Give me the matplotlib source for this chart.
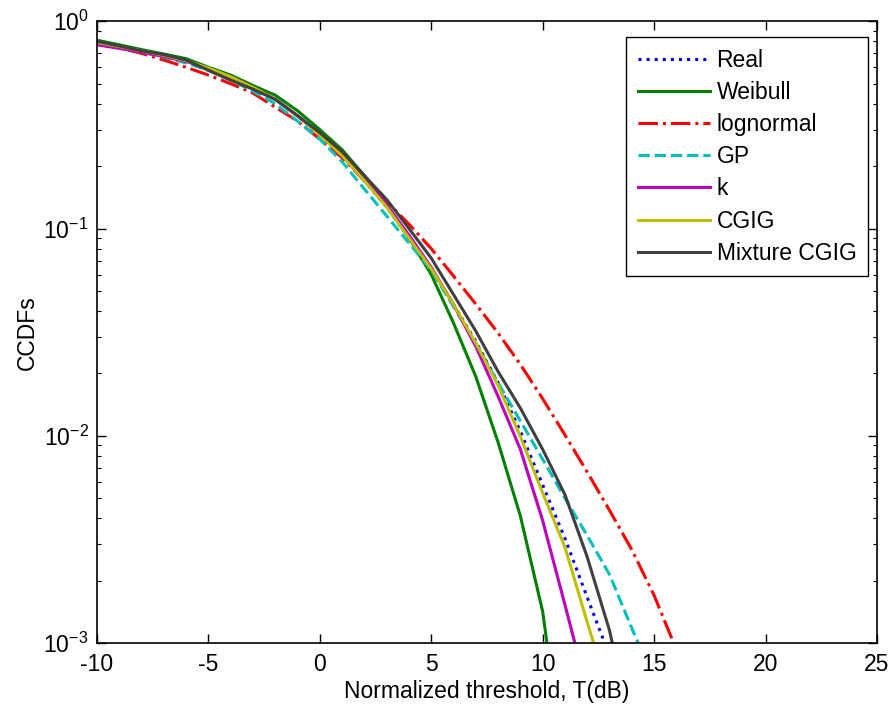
import numpy as np
import matplotlib
matplotlib.use("Agg")
import matplotlib.pyplot as plt
from matplotlib.ticker import LogLocator, NullFormatter, MultipleLocator

plt.rcParams['font.family'] = ['Liberation Sans', 'DejaVu Sans']
plt.rcParams['axes.unicode_minus'] = False
plt.rcParams['mathtext.fontset'] = 'custom'
plt.rcParams['mathtext.rm'] = 'Liberation Sans'

# threshold grid (dB), 1 dB steps
T = np.arange(-10, 17)

# CCDF values
real = [0.80, 0.76, 0.72, 0.685, 0.645, 0.595, 0.54, 0.48, 0.42, 0.35, 0.283,
        0.225, 0.17, 0.127, 0.09, 0.064, 0.043, 0.0285, 0.018, 0.0105, 0.0058,
        0.0032, 0.00166, 0.00087]
weibull = [0.81, 0.77, 0.73, 0.695, 0.66, 0.60, 0.55, 0.49, 0.44, 0.37, 0.30,
           0.24, 0.18, 0.13, 0.09, 0.06, 0.035, 0.0193, 0.0093, 0.0041, 0.00142,
           0.00023]
lognormal = [0.79, 0.745, 0.70, 0.65, 0.60, 0.55, 0.50, 0.45, 0.385, 0.33, 0.27,
             0.22, 0.17, 0.135, 0.105, 0.08, 0.059, 0.0432, 0.0313, 0.0221, 0.0151,
             0.0101, 0.00668, 0.00437, 0.00282, 0.0017, 0.00093]
gp = [0.79, 0.75, 0.71, 0.67, 0.63, 0.58, 0.52, 0.46, 0.40, 0.33, 0.27,
      0.21, 0.155, 0.115, 0.085, 0.063, 0.042, 0.028, 0.018, 0.0118, 0.0077,
      0.0050, 0.0033, 0.00214, 0.00118, 0.00066]
k = [0.77, 0.74, 0.71, 0.675, 0.64, 0.59, 0.54, 0.48, 0.42, 0.35, 0.285,
     0.23, 0.175, 0.13, 0.093, 0.065, 0.043, 0.027, 0.0155, 0.0086, 0.0039,
     0.00153, 0.00059]
cgig = [0.79, 0.755, 0.72, 0.685, 0.645, 0.595, 0.54, 0.48, 0.42, 0.35, 0.283,
        0.225, 0.17, 0.127, 0.09, 0.064, 0.043, 0.028, 0.0175, 0.0099, 0.0053,
        0.0029, 0.00126, 0.00056]
mixture = [0.80, 0.76, 0.72, 0.69, 0.65, 0.58, 0.52, 0.47, 0.42, 0.35, 0.29,
           0.235, 0.18, 0.138, 0.10, 0.072, 0.048, 0.032, 0.0204, 0.0136, 0.0086,
           0.0052, 0.0026, 0.00115, 0.00037]

series = [
    ("Real", real, (0, 0, 1), ':'),
    ("Weibull", weibull, (0, 0.5, 0), '-'),
    ("lognormal", lognormal, (1, 0, 0), '-.'),
    ("GP", gp, (0, 0.75, 0.75), '--'),
    ("k", k, (0.75, 0, 0.75), '-'),
    ("CGIG", cgig, (0.75, 0.75, 0), '-'),
    ("Mixture CGIG", mixture, (0.25, 0.25, 0.25), '-'),
]

fig = plt.figure(figsize=(8.93, 7.09), dpi=100)
ax = fig.add_axes([0.1086, 0.093, 0.8734, 0.877])

for name, vals, col, ls in series:
    ax.semilogy(T[:len(vals)], vals, color=col, linestyle=ls, lw=2.2, label=name)

fs = 16.5
ax.set_xlim(-10, 25)
ax.set_ylim(1e-3, 1)
ax.xaxis.set_major_locator(MultipleLocator(5))
ax.yaxis.set_major_locator(LogLocator(base=10))
ax.yaxis.set_minor_locator(LogLocator(base=10, subs=np.arange(2, 10)))
ax.yaxis.set_minor_formatter(NullFormatter())
ax.tick_params(which='both', direction='in', top=True, right=True, labelsize=fs)
ax.tick_params(which='major', length=6.5, width=1)
ax.tick_params(axis='x', which='major', pad=7)
ax.tick_params(axis='y', which='major', pad=6)
ax.tick_params(which='minor', length=3.2, width=0.8)
for s in ax.spines.values():
    s.set_linewidth(1.2)

ax.set_xlabel('Normalized threshold, T(dB)', fontsize=fs, labelpad=3)
ax.set_ylabel('CCDFs', fontsize=fs, labelpad=3)

leg = ax.legend(loc='upper right', bbox_to_anchor=(0.9885, 0.9743),
                fontsize=fs, fancybox=False, framealpha=1, edgecolor='black',
                handlelength=3.15, borderaxespad=0, labelspacing=0.4,
                handletextpad=0.3, borderpad=0.5)
leg.get_frame().set_linewidth(1.0)

fig.savefig('out.png', dpi=100)
